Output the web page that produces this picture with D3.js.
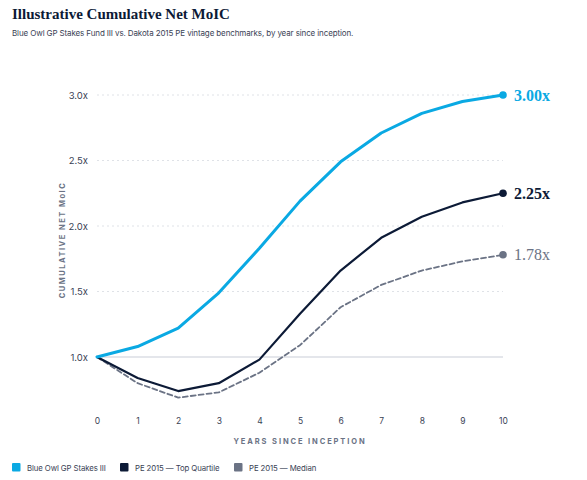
<!DOCTYPE html>
<html>
<head>
<meta charset="utf-8">
<script src="https://cdn.jsdelivr.net/npm/d3@7"></script>
<style>
  body { margin: 0; background: #fff; }
  svg { display: block; }
</style>
</head>
<body>
<div id="chart"></div>
<script>
var years = [0, 1, 2, 3, 4, 5, 6, 7, 8, 9, 10];
var blueOwl = [1.0, 1.08, 1.22, 1.49, 1.83, 2.19, 2.49, 2.71, 2.86, 2.95, 3.0];
var topQuartile = [1.0, 0.84, 0.74, 0.8, 0.98, 1.33, 1.66, 1.91, 2.07, 2.18, 2.25];
var median = [1.0, 0.8, 0.69, 0.73, 0.88, 1.09, 1.38, 1.55, 1.66, 1.73, 1.78];
var yTicks = [1.0, 1.5, 2.0, 2.5, 3.0];
var seriesNames = ["Blue Owl GP Stakes III", "PE 2015 \u2014 Top Quartile", "PE 2015 \u2014 Median"];
var endLabels = ["3.00x", "2.25x", "1.78x"];

var width = 587, height = 480;
var margin = { top: 95, right: 84, bottom: 123, left: 97 };
var graphWidth = width - margin.left - margin.right,
  graphHeight = height - margin.top - margin.bottom;

var colors = ["#0aa9e3", "#0c1a36", "#6b7385"];
var series = [blueOwl, topQuartile, median];

var svg = d3.select("#chart").append("svg").attr("width", width).attr("height", height);

svg.append("text")
  .text("Illustrative Cumulative Net MoIC")
  .attr("x", 12).attr("y", 19)
  .style("font-family", "'Liberation Serif', serif")
  .style("font-weight", "bold")
  .style("font-size", "15px")
  .attr("fill", "#0c1a36");

svg.append("text")
  .text("Blue Owl GP Stakes Fund III vs. Dakota 2015 PE vintage benchmarks, by year since inception.")
  .attr("x", 12).attr("y", 36)
  .style("font-family", "Inter, sans-serif")
  .style("font-size", "8px")
  .style("letter-spacing", "-0.12px")
  .attr("fill", "#3a4255");

var graph = svg.append("g")
  .attr("transform", "translate(" + margin.left + "," + margin.top + ")");

var x = d3.scaleLinear().domain([0, 10]).range([0, 406]);
var y = d3.scaleLinear().domain([1.0, 3.0]).range([262, 0]);

// gridlines
graph.selectAll("line.grid")
  .data(yTicks.filter(function (d) { return d !== 1.0; }))
  .enter().append("line")
  .attr("class", "grid")
  .attr("x1", 0).attr("x2", 406)
  .attr("y1", function (d) { return y(d); })
  .attr("y2", function (d) { return y(d); })
  .attr("stroke", "#dfe2e7")
  .attr("stroke-width", 1)
  .attr("stroke-dasharray", "2,3");

graph.append("line")
  .attr("x1", 0).attr("x2", 406)
  .attr("y1", y(1.0)).attr("y2", y(1.0))
  .attr("stroke", "#c9ced8")
  .attr("stroke-width", 1.2);

var yAxis = d3.axisLeft(y).tickValues(yTicks).tickSize(0).tickPadding(9)
  .tickFormat(function (d) { return d3.format(".1f")(d) + "x"; });
var gY = graph.append("g").call(yAxis);
gY.select(".domain").remove();
gY.selectAll("text")
  .style("font-family", "Inter, sans-serif")
  .style("font-size", "9.5px")
  .attr("fill", "#3a4255");

var xAxis = d3.axisBottom(x).tickValues(years).tickSize(0).tickPadding(0);
var gX = graph.append("g").attr("transform", "translate(0,323)").call(xAxis);
gX.select(".domain").remove();
gX.selectAll("text")
  .style("font-family", "Inter, sans-serif")
  .style("font-size", "8.5px")
  .attr("fill", "#3a4255");

svg.append("text")
  .text("YEARS SINCE INCEPTION")
  .attr("x", margin.left + 203).attr("y", 444)
  .attr("text-anchor", "middle")
  .style("font-family", "Inter, sans-serif")
  .style("font-weight", "bold")
  .style("font-size", "7.5px")
  .style("letter-spacing", "1.9px")
  .attr("fill", "#6b7385");

svg.append("text")
  .text("CUMULATIVE NET MoIC")
  .attr("transform", "translate(65,240) rotate(-90)")
  .attr("text-anchor", "middle")
  .style("font-family", "Inter, sans-serif")
  .style("font-weight", "bold")
  .style("font-size", "7.5px")
  .style("letter-spacing", "1.5px")
  .attr("fill", "#6b7385");

var line = d3.line()
  .x(function (d, i) { return x(years[i]); })
  .y(function (d) { return y(d); });

// draw back to front
[2, 1, 0].forEach(function (k) {
  graph.append("path")
    .datum(series[k])
    .attr("d", line)
    .attr("fill", "none")
    .attr("stroke", colors[k])
    .attr("stroke-width", k === 0 ? 3 : (k === 1 ? 2.2 : 1.8))
    .attr("stroke-dasharray", k === 2 ? "5,3" : null)
    .attr("stroke-linejoin", "round")
    .attr("stroke-linecap", "round");
  graph.append("circle")
    .attr("cx", x(10)).attr("cy", y(series[k][10]))
    .attr("r", 3.8)
    .attr("fill", colors[k]);
  graph.append("text")
    .text(endLabels[k])
    .attr("x", x(10) + 11).attr("y", y(series[k][10]) + 5.5)
    .style("font-family", "'Liberation Serif', serif")
    .style("font-weight", k === 2 ? "normal" : "bold")
    .style("font-size", "16px")
    .attr("fill", colors[k]);
});

// legend
var legendX = [12, 120, 234];
var legend = svg.selectAll("g.legend").data(seriesNames).enter().append("g")
  .attr("transform", function (d, i) { return "translate(" + legendX[i] + ",463)"; });
legend.append("rect")
  .attr("width", 8.5).attr("height", 8.5).attr("rx", 1)
  .attr("fill", function (d, i) { return colors[i]; });
legend.append("text")
  .text(function (d) { return d; })
  .attr("x", 15).attr("y", 7.5)
  .style("font-family", "Inter, sans-serif")
  .style("font-size", "7.8px")
  .style("letter-spacing", "-0.1px")
  .attr("fill", "#3a4255");
</script>
</body>
</html>
